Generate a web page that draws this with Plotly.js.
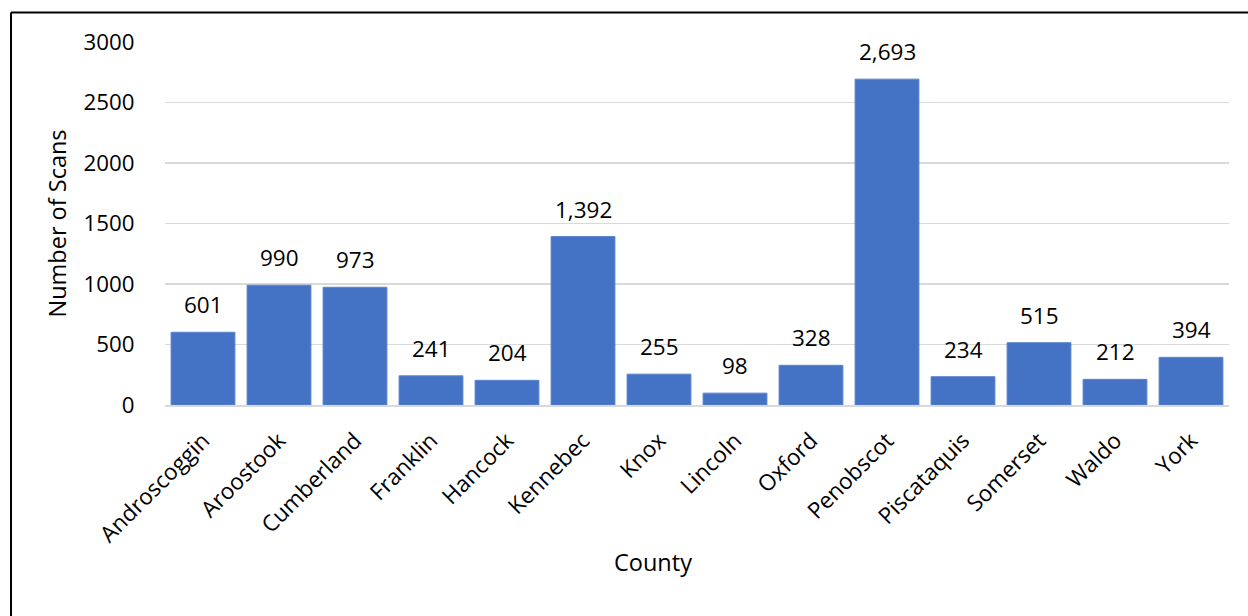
<!DOCTYPE html>
<html>
<head>
<meta charset="utf-8">
<script src="https://cdn.plot.ly/plotly-3.0.1.min.js"></script>
<style>
html,body{margin:0;padding:0;background:#fff;}
#chart{width:1248px;height:616px;}
</style>
</head>
<body>
<div id="chart"></div>
<script>
var counties = ["Androscoggin","Aroostook","Cumberland","Franklin","Hancock","Kennebec","Knox","Lincoln","Oxford","Penobscot","Piscataquis","Somerset","Waldo","York"];
var scans = [601, 990, 973, 241, 204, 1392, 255, 98, 328, 2693, 234, 515, 212, 394];
var yTicks = [0, 500, 1000, 1500, 2000, 2500, 3000];

var FONT = "Open Sans, Noto Sans, sans-serif";

var trace = {
  type: "bar",
  x: counties,
  y: scans,
  marker: {color: "#4472C4", line: {color: "#5b84cc", width: 1}},
  hoverinfo: "x+y"
};

var L = 165, R = 19, T = 42, B = 211, W = 1248, H = 616;
var pw = W - L - R, ph = H - T - B;
var bx = (11 - L) / pw;
var by = 1 + (T - 12.5) / ph;

var annotations = counties.map(function(c, i){
  return {
    x: c, y: scans[i], xref: "x", yref: "y",
    text: scans[i].toLocaleString("en-US"),
    showarrow: false, yanchor: "bottom", yshift: 10,
    font: {family: FONT, size: 22.5, color: "#000"}
  };
});
annotations.push({
  xref: "paper", yref: "paper",
  x: (653 - L) / pw, y: -(562 - (T + ph)) / ph,
  text: "County", showarrow: false, xanchor: "center", yanchor: "middle",
  font: {family: FONT, size: 23.5, color: "#000"}
});

var layout = {
  width: W, height: H,
  margin: {l: L, r: R, t: T, b: B},
  paper_bgcolor: "#fff", plot_bgcolor: "#fff",
  bargap: 0.16,
  showlegend: false,
  font: {family: FONT, size: 22, color: "#000"},
  xaxis: {
    type: "category",
    tickangle: -45,
    tickfont: {family: FONT, size: 22.5, color: "#000"},
    ticks: "outside", ticklen: 12, tickcolor: "rgba(0,0,0,0)",
    showgrid: false, zeroline: false,
    showline: true, linecolor: "#d9d9d9", linewidth: 1.5
  },
  yaxis: {
    range: [0, 3000],
    tickvals: yTicks,
    tickformat: "d",
    tickfont: {family: FONT, size: 22.3, color: "#000"},
    ticks: "outside", ticklen: 25, tickcolor: "rgba(0,0,0,0)",
    showgrid: true, gridcolor: "#d9d9d9", gridwidth: 1.5,
    zeroline: false, showline: false,
    title: {text: "Number of Scans", font: {family: FONT, size: 23.5, color: "#000"}, standoff: 10}
  },
  annotations: annotations,
  shapes: [
    {type: "line", xref: "paper", yref: "paper", x0: bx, x1: 1.1, y0: by, y1: by, line: {color: "#000", width: 2}},
    {type: "line", xref: "paper", yref: "paper", x0: bx, x1: bx, y0: by, y1: -1, line: {color: "#000", width: 2}}
  ]
};

Plotly.newPlot("chart", [trace], layout, {displayModeBar: false, staticPlot: true});
</script>
</body>
</html>
